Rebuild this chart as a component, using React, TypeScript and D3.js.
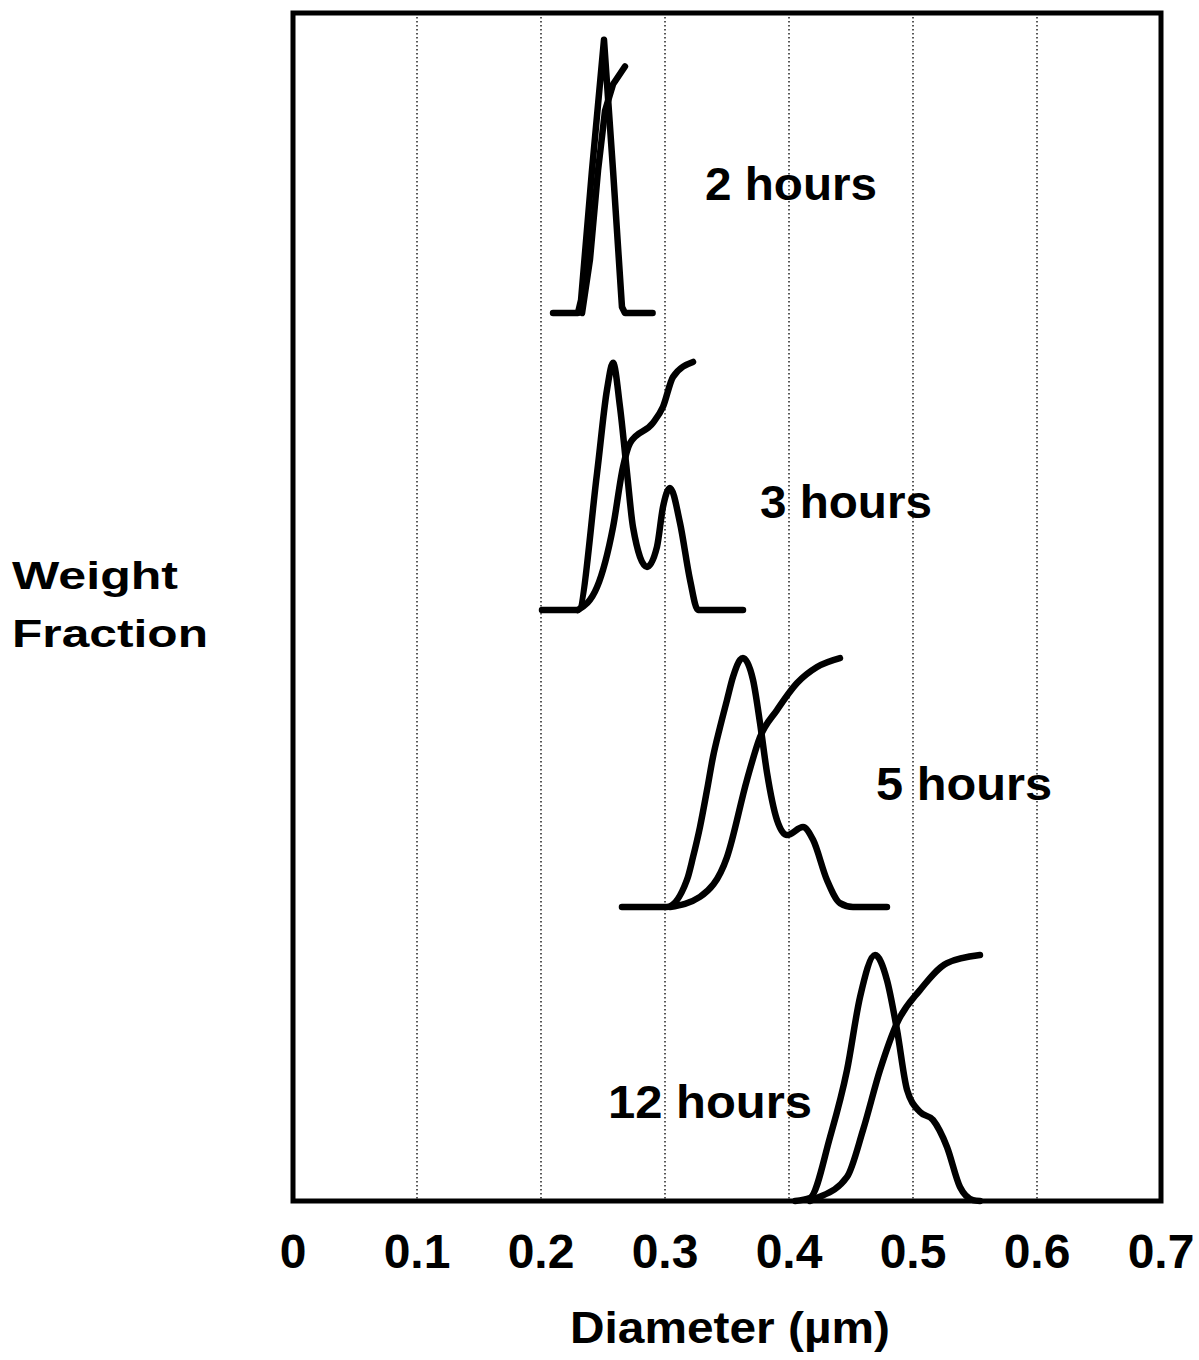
import React from "react";
import * as d3 from "d3";

// ---- data (diameter in µm, weight fraction in relative units above each group's baseline) ----
const xTicks = [0, 0.1, 0.2, 0.3, 0.4, 0.5, 0.6, 0.7];
const gridTicks = [0.1, 0.2, 0.3, 0.4, 0.5, 0.6];
const groupNames = ["2 hours", "3 hours", "5 hours", "12 hours"];
const groupOffsets = [2.99, 1.99, 0.99, 0];

const dist2h: [number, number][] = [
  [0.2097, 0], [0.2298, 0], [0.2323, 0.044], [0.2411, 0.48], [0.2508, 0.92],
  [0.2581, 0.48], [0.2653, 0.02], [0.2677, 0], [0.29, 0],
];
const cum2h: [number, number][] = [
  [0.2331, 0], [0.2395, 0.18], [0.246, 0.48], [0.2516, 0.68], [0.2581, 0.77], [0.2677, 0.83],
];
const dist3h: [number, number][] = [
  [0.2008, 0], [0.2298, 0], [0.2452, 0.461], [0.2532, 0.741], [0.2581, 0.832],
  [0.2637, 0.684], [0.2694, 0.461], [0.2742, 0.279], [0.2855, 0.145], [0.2935, 0.212],
  [0.2984, 0.347], [0.304, 0.411], [0.3121, 0.293], [0.3202, 0.101], [0.3266, 0], [0.3629, 0],
];
const cum3h: [number, number][] = [
  [0.2298, 0], [0.2452, 0.077], [0.2581, 0.279], [0.2661, 0.481], [0.2718, 0.562],
  [0.2903, 0.63], [0.2984, 0.684], [0.3065, 0.785], [0.3226, 0.835],
];
const dist5h: [number, number][] = [
  [0.2653, 0], [0.3016, 0], [0.3177, 0.091], [0.3226, 0.168], [0.3282, 0.269],
  [0.3339, 0.394], [0.3387, 0.505], [0.3444, 0.606], [0.35, 0.697], [0.3548, 0.774],
  [0.3605, 0.832], [0.3629, 0.838], [0.371, 0.764], [0.3766, 0.62],
  [0.3823, 0.451], [0.3903, 0.293], [0.3984, 0.242], [0.4113, 0.269], [0.4194, 0.226],
  [0.4306, 0.091], [0.4411, 0.013], [0.4516, 0], [0.479, 0],
];
const cum5h: [number, number][] = [
  [0.304, 0], [0.3282, 0.034], [0.35, 0.168], [0.3661, 0.428], [0.3766, 0.572],
  [0.3903, 0.663], [0.4065, 0.754], [0.4226, 0.808], [0.4411, 0.838],
];
const dist12h: [number, number][] = [
  [0.405, 0], [0.4169, 0.01], [0.4331, 0.215], [0.4468, 0.441], [0.4573, 0.687],
  [0.4694, 0.828], [0.479, 0.744], [0.4871, 0.576], [0.4952, 0.374], [0.5056, 0.3],
  [0.5161, 0.273], [0.5274, 0.182], [0.5379, 0.047], [0.5484, 0.003], [0.554, 0],
];
const cum12h: [number, number][] = [
  [0.4169, 0], [0.4226, 0.01], [0.4468, 0.081], [0.4597, 0.239], [0.4734, 0.441],
  [0.4871, 0.599], [0.5056, 0.71], [0.5274, 0.801], [0.554, 0.828],
];
const distSeries = [dist2h, dist3h, dist5h, dist12h];
const cumSeries = [cum2h, cum3h, cum5h, cum12h];
// label anchors (diameter, stacked weight-fraction units)
const labelX = [0.3323, 0.3766, 0.4702, 0.254];
const labelY = [3.37, 2.3, 1.35, 0.279];

const W = 1199;
const H = 1360;
const FONT = "'Liberation Sans', Arial, Helvetica, sans-serif";
const labelWidths = [172, 172, 176, 204];

export default function App() {
  const x = d3.scaleLinear().domain([0, 0.7]).range([293, 1161]);
  const y = d3.scaleLinear().domain([0, 4]).range([1201, 13]);
  const top = y(4);
  const bottom = y(0);

  const makeLine = (offset: number, sharp: boolean) =>
    d3
      .line<[number, number]>()
      .x((d) => x(d[0]))
      .y((d) => y(d[1] + offset))
      .curve(sharp ? d3.curveLinear : d3.curveMonotoneX);

  return (
    <div style={{ position: "absolute", left: 0, top: 0 }}>
      <svg width={W} height={H} style={{ display: "block", background: "#fff" }}>
        {gridTicks.map((t) => (
          <line
            key={t}
            x1={x(t)}
            x2={x(t)}
            y1={top}
            y2={bottom}
            stroke="#222"
            strokeWidth={1.5}
            strokeDasharray="1.5 2.5"
          />
        ))}
        {groupNames.map((name, i) => {
          const ln = makeLine(groupOffsets[i], i === 0);
          return (
            <g key={name}>
              <path
                d={ln(distSeries[i]) || ""}
                fill="none"
                stroke="#000"
                strokeWidth={6.5}
                strokeLinejoin="round"
                strokeLinecap="round"
              />
              <path
                d={ln(cumSeries[i]) || ""}
                fill="none"
                stroke="#000"
                strokeWidth={6.5}
                strokeLinejoin="round"
                strokeLinecap="round"
              />
              <text
                x={x(labelX[i])}
                y={y(labelY[i])}
                fontFamily={FONT}
                fontWeight="bold"
                fontSize={46}
                textLength={labelWidths[i]}
                lengthAdjust="spacingAndGlyphs"
                fill="#000"
              >
                {name}
              </text>
            </g>
          );
        })}
        <rect
          x={x(0)}
          y={top}
          width={x(0.7) - x(0)}
          height={bottom - top}
          fill="none"
          stroke="#000"
          strokeWidth={5}
        />
        {xTicks.map((t) => (
          <text
            key={t}
            x={x(t)}
            y={1268}
            textAnchor="middle"
            fontFamily={FONT}
            fontWeight="bold"
            fontSize={48}
            fill="#000"
          >
            {t === 0 ? "0" : String(t)}
          </text>
        ))}
        <text
          x={730}
          y={1343}
          textAnchor="middle"
          fontFamily={FONT}
          fontWeight="bold"
          fontSize={44}
          textLength={320}
          lengthAdjust="spacingAndGlyphs"
        >
          Diameter (µm)
        </text>
        <text
          x={12}
          y={589}
          fontFamily={FONT}
          fontWeight="bold"
          fontSize={39}
          textLength={166}
          lengthAdjust="spacingAndGlyphs"
        >
          Weight
        </text>
        <text
          x={12}
          y={647}
          fontFamily={FONT}
          fontWeight="bold"
          fontSize={39}
          textLength={196}
          lengthAdjust="spacingAndGlyphs"
        >
          Fraction
        </text>
      </svg>
    </div>
  );
}
